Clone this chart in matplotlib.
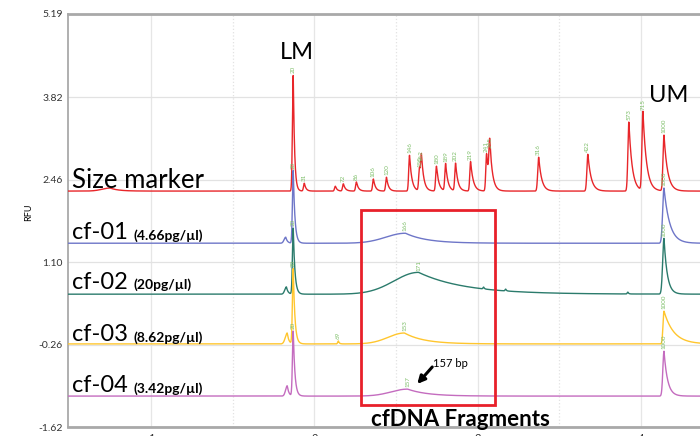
import numpy as np
import matplotlib
matplotlib.use('Agg')
import matplotlib.pyplot as plt
from matplotlib.patches import Rectangle

plt.rcParams['font.family'] = ['Lato', 'DejaVu Sans']

# y tick values of the RFU axis
y_ticks = [-1.62, -0.26, 1.10, 2.46, 3.82, 5.19]
x_ticks = [1, 2, 3, 4]

# size marker ladder (red)
red_base = 2.27
red_pos = [0.75, 1.871, 1.939, 2.129, 2.178, 2.258, 2.362, 2.442, 2.583, 2.644, 2.656,
           2.748, 2.804, 2.865, 2.957, 3.055, 3.074, 3.374, 3.675, 3.926, 4.012, 4.141]
red_h = [0.05, 1.91, 0.13, 0.08, 0.12, 0.15, 0.20, 0.23, 0.59, 0.36, 0.46,
         0.41, 0.45, 0.46, 0.49, 0.62, 0.68, 0.56, 0.61, 1.14, 1.30, 0.92]
red_w = [0.05, 0.005, 0.005, 0.005, 0.005, 0.005, 0.005, 0.005, 0.005, 0.005, 0.005,
         0.005, 0.005, 0.005, 0.005, 0.005, 0.005, 0.006, 0.006, 0.006, 0.006, 0.006]
red_tau = [0.05, 0.008, 0.01, 0.01, 0.012, 0.012, 0.012, 0.012, 0.014, 0.014, 0.014,
           0.014, 0.014, 0.014, 0.016, 0.016, 0.016, 0.018, 0.02, 0.02, 0.022, 0.022]
red_lab = ['', '20', '31', '', '72', '86', '106', '120', '146', '150', '162',
           '180', '189', '202', '219', '241', '245', '316', '422', '573', '715', '1000']

# cf-01 (blue)
blue_base = 1.41
blue_pos = [1.825, 1.871, 2.558, 4.141]
blue_h = [0.10, 1.20, 0.165, 0.91]
blue_w = [0.010, 0.005, 0.12, 0.008]
blue_tau = [0.01, 0.01, 0.13, 0.035]
blue_lab = ['', '20', '166', '1000']

# cf-02 (teal)
teal_base = 0.57
teal_pos = [1.829, 1.871, 2.638, 3.037, 3.172, 3.920, 4.141]
teal_h = [0.12, 1.09, 0.36, 0.03, 0.03, 0.03, 0.92]
teal_w = [0.010, 0.005, 0.15, 0.004, 0.004, 0.004, 0.008]
teal_tau = [0.01, 0.01, 0.28, 0.005, 0.005, 0.005, 0.02]
teal_lab = ['', '20', '171', '', '', '', '1000']

# cf-03 (yellow)
yel_base = -0.25
yel_pos = [1.834, 1.871, 2.147, 2.552, 4.141]
yel_h = [0.18, 1.24, 0.05, 0.18, 0.54]
yel_w = [0.012, 0.005, 0.004, 0.10, 0.006]
yel_tau = [0.01, 0.01, 0.006, 0.12, 0.06]
yel_lab = ['', '20', '69', '153', '1000']

# cf-04 (pink)
pink_base = -1.11
pink_pos = [1.834, 1.871, 2.571, 4.141]
pink_h = [0.17, 1.07, 0.115, 0.74]
pink_w = [0.010, 0.005, 0.10, 0.007]
pink_tau = [0.01, 0.01, 0.12, 0.022]
pink_lab = ['', '20', '157', '1000']

traces = [
    ('#e8262a', red_base, red_pos, red_h, red_w, red_tau, red_lab),
    ('#6e76c8', blue_base, blue_pos, blue_h, blue_w, blue_tau, blue_lab),
    ('#2b7b6c', teal_base, teal_pos, teal_h, teal_w, teal_tau, teal_lab),
    ('#ffc62e', yel_base, yel_pos, yel_h, yel_w, yel_tau, yel_lab),
    ('#c46cbf', pink_base, pink_pos, pink_h, pink_w, pink_tau, pink_lab),
]

sample_names = ['cf-01', 'cf-02', 'cf-03', 'cf-04']
sample_conc = ['(4.66pg/µl)', '(20pg/µl)', '(8.62pg/µl)', '(3.42pg/µl)']
name_y = [1.58, 0.77, -0.09, -0.94]


def peak(x, p, h, w, tau):
    left = h * np.exp(-(x - p) ** 2 / (2 * w ** 2))
    right = h * np.exp(-(x - p) / tau)
    return np.where(x < p, left, right)


fig = plt.figure(figsize=(7, 4.36), dpi=100)
ax = fig.add_axes([0.097, 0.0206, 0.905, 0.968 - 0.0206])

x = np.linspace(0.49, 4.37, 4000)
for color, base, pos, hs, ws, taus, labs in traces:
    y = np.full_like(x, base)
    for p, h, w, t in zip(pos, hs, ws, taus):
        y += peak(x, p, h, w, t)
    ax.plot(x, y, color=color, lw=1.0, zorder=3)
    for p, h, lab in zip(pos, hs, labs):
        if lab:
            ax.text(p, base + h + 0.03, lab, rotation=90, ha='center', va='bottom',
                    fontsize=4.5, color='#7fbf6a', zorder=4)

ax.set_xlim(0.491, 4.37)
ax.set_ylim(-1.62, 5.19)
ax.set_yticks(y_ticks)
ax.set_yticklabels([f'{v:.2f}' for v in y_ticks], fontsize=7.5, color='#333333')
ax.set_xticks(x_ticks)
ax.set_xticklabels([str(v) for v in x_ticks], fontsize=8, color='#333333')
ax.set_xticks([1.5, 2.5, 3.5], minor=True)
ax.tick_params(length=0, which='both')
ax.tick_params(axis='x', pad=4)
ax.grid(axis='y', color='#e2e2e2', lw=0.9)
ax.grid(axis='x', which='major', color='#e6e6e6', lw=0.9)
ax.grid(axis='x', which='minor', color='#e2e2e2', lw=0.9, ls=':')
ax.set_axisbelow(True)
ax.set_ylabel('RFU', fontsize=6.5)
ax.yaxis.set_label_coords(-0.055, 0.52)

for s in ['top', 'bottom']:
    ax.spines[s].set_color('#a9a9a9')
    ax.spines[s].set_linewidth(2)
ax.spines['left'].set_color('#a9a9a9')
ax.spines['left'].set_linewidth(1.3)
ax.spines['right'].set_visible(False)

# trace names
ax.text(0.515, 2.45, 'Size marker', fontsize=18.5, va='center', ha='left', zorder=5)
for nm, conc, yy in zip(sample_names, sample_conc, name_y):
    ax.text(0.515, yy, nm, fontsize=17, va='center', ha='left', zorder=5)
    ax.text(0.89, yy - 0.05, conc, fontsize=10, fontweight='bold', va='center', ha='left', zorder=5)

ax.text(1.89, 4.56, 'LM', fontsize=17, ha='center', va='center')
ax.text(4.172, 3.84, 'UM', fontsize=17, ha='center', va='center')

ax.add_patch(Rectangle((2.288, -1.257), 3.104 - 2.288, 1.958 + 1.257, fill=False,
                       edgecolor='#e8202a', lw=2, zorder=6))
ax.text(2.896, -1.60, 'cfDNA Fragments', fontsize=16, fontweight='bold', ha='center',
        va='baseline', zorder=6, clip_on=False)
ax.text(2.727, -0.58, '157 bp', fontsize=8, va='center', ha='left', zorder=6)
ax.annotate('', xy=(2.630, -0.91), xytext=(2.722, -0.63), zorder=6,
            arrowprops=dict(arrowstyle='-|>', color='black', lw=2.2, mutation_scale=11,
                            shrinkA=0, shrinkB=0))

fig.savefig('out.png', dpi=100)
